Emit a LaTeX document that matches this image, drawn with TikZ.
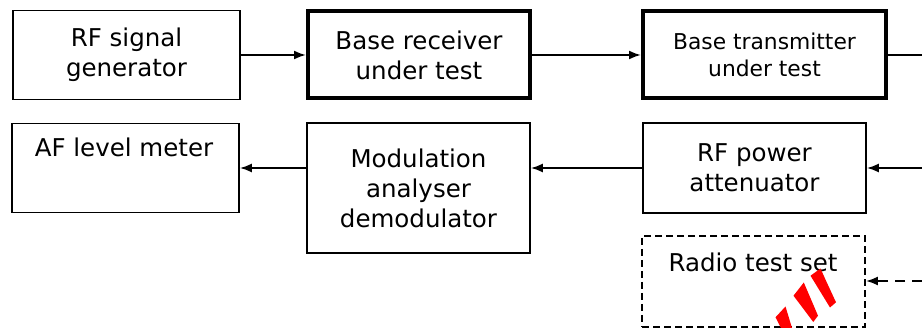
\documentclass[tikz,border=0pt]{standalone}
\usepackage{fontspec}
\setmainfont{DejaVu Sans}
\usetikzlibrary{arrows.meta,calc}
\begin{document}
\begin{tikzpicture}[x=1pt,y=-1pt,
  box/.style={draw, line width=1.6pt, inner sep=0pt, align=center, font=\fontsize{24.5}{30}\selectfont},
  thickbox/.style={box, line width=4pt},
  dashbox/.style={draw, line width=1.8pt, dash pattern=on 7pt off 4pt, inner sep=0pt},
  lbl/.style={inner sep=0pt, font=\fontsize{24.5}{30}\selectfont},
  conn/.style={line width=2pt, -{Latex[length=12pt,width=9pt]}},
  plain/.style={line width=2pt},
  dconn/.style={line width=2pt, dash pattern=on 10pt off 7pt, -{Latex[length=12pt,width=9pt]}},
  stripe/.style={fill=red, draw=none}]
\useasboundingbox (0,0) rectangle (922,328);

\node (gen) [box, minimum width=227pt, minimum height=89pt] at (126.5,55) {RF signal\\generator};
\node (rx) [thickbox, minimum width=222pt, minimum height=87pt] at (419,55) {Base receiver\\under test};
\node (tx) [thickbox, minimum width=243pt, minimum height=87pt, font=\fontsize{21.8}{27}\selectfont] at (764.5,55) {Base transmitter\\under test};

\node (af) [box, minimum width=227pt, minimum height=89pt] at (125.5,168) {};
\node (aftxt) [lbl, anchor=base] at (124,157) {AF level meter};
\node (mod) [box, minimum width=223pt, minimum height=130pt] at (418.5,188) {Modulation\\analyser\\demodulator};
\node (att) [box, minimum width=223pt, minimum height=90pt] at (754.5,168) {RF power\\attenuator};

\node (rts) [dashbox, minimum width=223pt, minimum height=91pt] at (753.5,281.5) {};
\node (rtstxt) [lbl, anchor=base] at (753,272) {Radio test set};

\coordinate (outtx) at (922,55);
\coordinate (inatt) at (922,168);
\coordinate (inrts) at (922,281);

\draw[conn] (gen) -- (rx);
\draw[conn] (rx) -- (tx);
\draw[plain] (tx) -- (outtx);
\draw[conn] (inatt) -- (att.east);
\draw[conn] (att.west) -- (att.west -| mod.east);
\draw[conn] (mod.west |- af.east) -- (af.east);
\draw[dconn] (inrts) -- (rts.east |- inrts);

\fill[stripe] (810.5,275.7) -- (820.5,268.5) -- (826,280.7) -- (836,302.3) -- (830,307.5) -- cycle;
\fill[stripe] (793.5,295.7) -- (803.8,282.5) -- (818,315.7) -- (813.3,322) -- cycle;
\fill[stripe] (775.5,317.3) -- (785.5,306.5) -- (792,328) -- (781,328) -- cycle;
\end{tikzpicture}
\end{document}
